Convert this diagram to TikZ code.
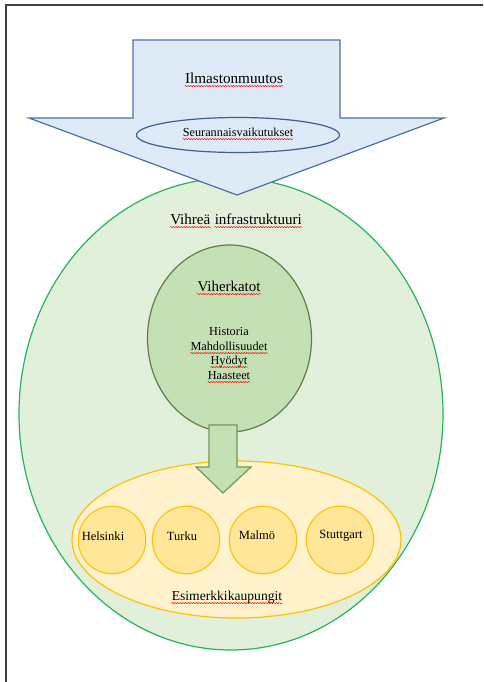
\documentclass[tikz,border=0pt]{standalone}
\usepackage{fontspec}
\setmainfont{Liberation Serif}
\usetikzlibrary{decorations.pathmorphing}
\definecolor{bluefill}{HTML}{DEEBF7}
\definecolor{blueline}{HTML}{4A6FA8}
\definecolor{bigfill}{HTML}{E2EFDA}
\definecolor{bigline}{HTML}{22B55A}
\definecolor{roofill}{HTML}{C5E0B4}
\definecolor{roofline}{HTML}{5E7F4A}
\definecolor{arrline}{HTML}{6E9A55}
\definecolor{yelfill}{HTML}{FFF2CC}
\definecolor{yelline}{HTML}{FFC000}
\definecolor{cityfill}{HTML}{FFE699}
\definecolor{frameline}{HTML}{404040}
\tikzset{
  lbl/.style={inner sep=0pt, anchor=base, text=black},
  squigline/.style={draw=red, line width=0.35pt, decorate,
    decoration={snake, amplitude=0.45pt, segment length=2pt}},
  squig/.style={append after command={
    ([yshift=-2.3pt]\tikzlastnode.base west) edge[squigline] ([yshift=-2.3pt]\tikzlastnode.base east)}},
  city/.style={circle, minimum size=67.5pt*0.75, inner sep=0pt, fill=cityfill, draw=yelline, line width=0.8pt},
}
\begin{document}
\begin{tikzpicture}[x=0.75pt,y=-0.75pt]
\useasboundingbox (0,0) rectangle (483,682);
\fill[white] (0,0) rectangle (483,682);
% frame
\draw[frameline, line width=1.2pt] (6,682) -- (6,5) -- (483,5);
% big green ellipse
\draw[fill=bigfill, draw=bigline, line width=0.9pt] (231,414) ellipse [x radius=212, y radius=236];
% blue arrow
\draw[fill=bluefill, draw=blueline, line width=0.9pt]
  (133,40) -- (340,40) -- (340,118) -- (444,118) -- (237,195) -- (29,118) -- (133,118) -- cycle;
\draw[fill=bluefill, draw=blueline!85!black, line width=0.9pt] (238,135) ellipse [x radius=101.5, y radius=17.5];
\node[lbl, font=\fontsize{11.4}{13}\selectfont, squig] (ilm) at (234,83) {Ilmastonmuutos};
\node[lbl, font=\fontsize{9.2}{11}\selectfont, squig] (seu) at (238,136) {Seurannaisvaikutukset};
% title of green
\node[lbl, anchor=base west, font=\fontsize{11.3}{13}\selectfont, squig] (vih1) at (170,224) {Vihreä};
\node[lbl, anchor=base west, font=\fontsize{11.3}{13}\selectfont, squig] (vih2) at ([xshift=2.9pt]vih1.base east) {infrastruktuuri};
% viherkatot ellipse
\draw[fill=roofill, draw=roofline, line width=0.9pt] (229.5,338.5) ellipse [x radius=82, y radius=93.5];
\node[lbl, font=\fontsize{11.2}{13}\selectfont, squig] (vk) at (229,291) {Viherkatot};
\node[lbl, font=\fontsize{9.2}{11}\selectfont] (his) at (229,335) {Historia};
\node[lbl, font=\fontsize{9.2}{11}\selectfont, squig] (mah) at (229,350) {Mahdollisuudet};
\node[lbl, font=\fontsize{9.2}{11}\selectfont, squig] (hyo) at (229,364) {Hyödyt};
\node[lbl, font=\fontsize{9.2}{11}\selectfont, squig] (haa) at (229,379) {Haasteet};
% yellow ellipse
\draw[fill=yelfill, draw=yelline, line width=0.9pt] (236.5,539.5) ellipse [x radius=164.5, y radius=78.5];
% small green arrow
\draw[fill=roofill, draw=arrline, line width=0.9pt]
  (209,425) -- (237,425) -- (237,467) -- (251,467) -- (223,493) -- (196,467) -- (209,467) -- cycle;
% cities
\node[city] (hel) at (112,540) {};
\node[city] (tur) at (186,540) {};
\node[city] (mal) at (263,540) {};
\node[city] (stu) at (340,540) {};
\node[lbl, font=\fontsize{9.4}{11}\selectfont] (helt) at (103,540) {Helsinki};
\node[lbl, font=\fontsize{9.4}{11}\selectfont] (turt) at (182,540) {Turku};
\node[lbl, font=\fontsize{9.4}{11}\selectfont] (malt) at (257,539) {Malmö};
\node[lbl, font=\fontsize{9.4}{11}\selectfont] (stut) at (341,538) {Stuttgart};
\node[lbl, font=\fontsize{10.2}{12}\selectfont, squig] (esi) at (227,600) {Esimerkkikaupungit};
\end{tikzpicture}
\end{document}
